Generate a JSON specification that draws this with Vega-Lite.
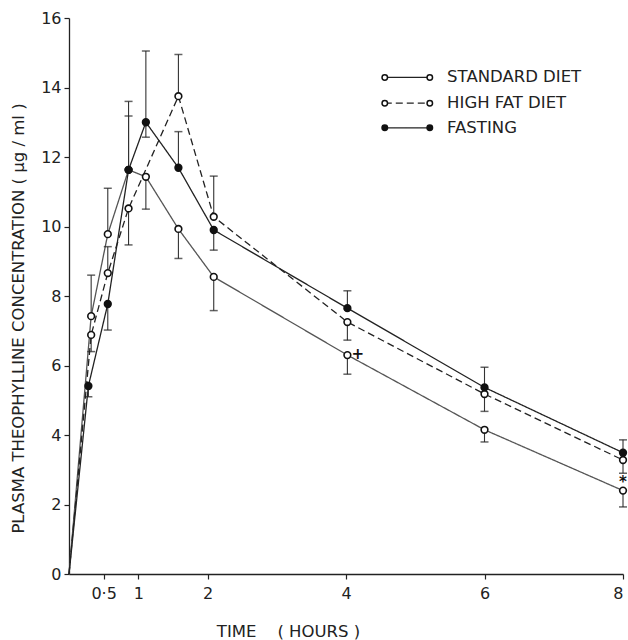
{
  "$schema": "https://vega.github.io/schema/vega-lite/v6.json",
  "width": 554,
  "height": 556,
  "autosize": {"type": "none"},
  "padding": {"left": 69, "top": 18, "right": 5, "bottom": 66},
  "background": "white",
  "config": {
    "view": {"stroke": null},
    "font": "DejaVu Sans",
    "axis": {
      "grid": false,
      "domainColor": "#222",
      "domainWidth": 1.3,
      "tickColor": "#222",
      "tickWidth": 1.2,
      "tickSize": 5,
      "labelColor": "#222",
      "labelFont": "DejaVu Sans",
      "labelFontSize": 16,
      "titleFont": "DejaVu Sans",
      "titleFontSize": 16.5,
      "titleFontWeight": "normal",
      "titleColor": "#222"
    }
  },
  "datasets": {
    "main": [
      {"s": "STANDARD DIET", "t": 0, "c": 0},
      {"s": "STANDARD DIET", "t": 0.32, "c": 7.42},
      {"s": "STANDARD DIET", "t": 0.56, "c": 9.78},
      {"s": "STANDARD DIET", "t": 0.86, "c": 11.63},
      {"s": "STANDARD DIET", "t": 1.11, "c": 11.43},
      {"s": "STANDARD DIET", "t": 1.58, "c": 9.93},
      {"s": "STANDARD DIET", "t": 2.09, "c": 8.55},
      {"s": "STANDARD DIET", "t": 4.02, "c": 6.3},
      {"s": "STANDARD DIET", "t": 6, "c": 4.15},
      {"s": "STANDARD DIET", "t": 8, "c": 2.4},
      {"s": "HIGH FAT DIET", "t": 0, "c": 0},
      {"s": "HIGH FAT DIET", "t": 0.32, "c": 6.88},
      {"s": "HIGH FAT DIET", "t": 0.56, "c": 8.66},
      {"s": "HIGH FAT DIET", "t": 0.86, "c": 10.52},
      {"s": "HIGH FAT DIET", "t": 1.58, "c": 13.75},
      {"s": "HIGH FAT DIET", "t": 2.09, "c": 10.28},
      {"s": "HIGH FAT DIET", "t": 4.02, "c": 7.25},
      {"s": "HIGH FAT DIET", "t": 6, "c": 5.18},
      {"s": "HIGH FAT DIET", "t": 8, "c": 3.28},
      {"s": "FASTING", "t": 0, "c": 0},
      {"s": "FASTING", "t": 0.28, "c": 5.41},
      {"s": "FASTING", "t": 0.56, "c": 7.77},
      {"s": "FASTING", "t": 0.86, "c": 11.63},
      {"s": "FASTING", "t": 1.11, "c": 13.0},
      {"s": "FASTING", "t": 1.58, "c": 11.69},
      {"s": "FASTING", "t": 2.09, "c": 9.9},
      {"s": "FASTING", "t": 4.02, "c": 7.65},
      {"s": "FASTING", "t": 6, "c": 5.37},
      {"s": "FASTING", "t": 8, "c": 3.49}
    ],
    "err": [
      {"s": "STANDARD DIET", "t": 0.32, "c": 7.42, "e": 8.6},
      {"s": "STANDARD DIET", "t": 0.56, "c": 9.78, "e": 11.1},
      {"s": "STANDARD DIET", "t": 0.86, "c": 11.63, "e": 13.6},
      {"s": "STANDARD DIET", "t": 1.11, "c": 11.43, "e": 10.5},
      {"s": "STANDARD DIET", "t": 1.58, "c": 9.93, "e": 9.08},
      {"s": "STANDARD DIET", "t": 2.09, "c": 8.55, "e": 7.58},
      {"s": "STANDARD DIET", "t": 4.02, "c": 6.3, "e": 5.75},
      {"s": "STANDARD DIET", "t": 6, "c": 4.15, "e": 3.8},
      {"s": "STANDARD DIET", "t": 8, "c": 2.4, "e": 1.93},
      {"s": "HIGH FAT DIET", "t": 0.32, "c": 6.88, "e": 6.4},
      {"s": "HIGH FAT DIET", "t": 0.56, "c": 8.66, "e": 9.42},
      {"s": "HIGH FAT DIET", "t": 0.86, "c": 10.52, "e": 9.47},
      {"s": "HIGH FAT DIET", "t": 1.58, "c": 13.75, "e": 14.95},
      {"s": "HIGH FAT DIET", "t": 2.09, "c": 10.28, "e": 11.45},
      {"s": "HIGH FAT DIET", "t": 4.02, "c": 7.25, "e": 6.73},
      {"s": "HIGH FAT DIET", "t": 6, "c": 5.18, "e": 4.68},
      {"s": "HIGH FAT DIET", "t": 8, "c": 3.28, "e": 2.9},
      {"s": "FASTING", "t": 0.28, "c": 5.41, "e": 5.1},
      {"s": "FASTING", "t": 0.56, "c": 7.77, "e": 7.02},
      {"s": "FASTING", "t": 0.86, "c": 11.63, "e": 13.18},
      {"s": "FASTING", "t": 1.11, "c": 13.0, "e": 15.05},
      {"s": "FASTING", "t": 1.11, "c": 13.0, "e": 12.57},
      {"s": "FASTING", "t": 1.58, "c": 11.69, "e": 12.73},
      {"s": "FASTING", "t": 2.09, "c": 9.9, "e": 9.32},
      {"s": "FASTING", "t": 4.02, "c": 7.65, "e": 8.15},
      {"s": "FASTING", "t": 6, "c": 5.37, "e": 5.95},
      {"s": "FASTING", "t": 8, "c": 3.49, "e": 3.86}
    ],
    "notes": [
      {"t": 4.17, "c": 6.33, "txt": "+"},
      {"t": 8.0, "c": 2.66, "txt": "*"}
    ],
    "leg": [
      {"s": "STANDARD DIET", "x": 4.56, "y": 14.29},
      {"s": "STANDARD DIET", "x": 5.21, "y": 14.29},
      {"s": "HIGH FAT DIET", "x": 4.56, "y": 13.55},
      {"s": "HIGH FAT DIET", "x": 5.21, "y": 13.55},
      {"s": "FASTING", "x": 4.56, "y": 12.84},
      {"s": "FASTING", "x": 5.21, "y": 12.84}
    ],
    "legtext": [
      {"s": "STANDARD DIET", "x": 5.46, "y": 14.29},
      {"s": "HIGH FAT DIET", "x": 5.46, "y": 13.55},
      {"s": "FASTING", "x": 5.46, "y": 12.84}
    ]
  },
  "layer": [
    {
      "data": {"name": "main"},
      "mark": {"type": "line", "strokeWidth": 1.3},
      "encoding": {
        "x": {"field": "t", "type": "quantitative",
              "scale": {"domain": [0, 8], "nice": false, "zero": true},
              "axis": {"values": [0.5, 1, 2, 4, 6, 8], "title": "TIME\u00a0\u00a0\u00a0\u00a0( HOURS )",
                       "labelExpr": "datum.value == 0.5 ? '0·5' : format(datum.value, 'd')",
                       "labelPadding": 6, "titlePadding": 22, "titleX": 219}},
        "y": {"field": "c", "type": "quantitative",
              "scale": {"domain": [0, 16], "nice": false},
              "axis": {"values": [0, 2, 4, 6, 8, 10, 12, 14, 16],
                       "title": "PLASMA THEOPHYLLINE CONCENTRATION ( µg / ml )",
                       "labelPadding": 3, "titlePadding": 14, "titleY": 300}},
        "detail": {"field": "s"},
        "color": {"field": "s", "type": "nominal", "legend": null,
                  "scale": {"domain": ["STANDARD DIET", "HIGH FAT DIET", "FASTING"], "range": ["#555", "#222", "#222"]}},
        "strokeDash": {"field": "s", "type": "nominal", "legend": null,
                  "scale": {"domain": ["STANDARD DIET", "HIGH FAT DIET", "FASTING"], "range": [[1, 0], [7, 4], [1, 0]]}}
      }
    },
    {
      "data": {"name": "err"},
      "mark": {"type": "rule", "strokeWidth": 1.1, "color": "#333"},
      "encoding": {
        "x": {"field": "t", "type": "quantitative"},
        "y": {"field": "c", "type": "quantitative"},
        "y2": {"field": "e"}
      }
    },
    {
      "data": {"name": "err"},
      "mark": {"type": "tick", "orient": "horizontal", "size": 8, "thickness": 1.5, "color": "#222"},
      "encoding": {
        "x": {"field": "t", "type": "quantitative"},
        "y": {"field": "e", "type": "quantitative"}
      }
    },
    {
      "data": {"name": "main"},
      "transform": [{"filter": "datum.t > 0"}],
      "mark": {"type": "point", "shape": "circle", "size": 45, "strokeWidth": 1.6, "opacity": 1, "filled": false},
      "encoding": {
        "x": {"field": "t", "type": "quantitative"},
        "y": {"field": "c", "type": "quantitative"},
        "fill": {"field": "s", "type": "nominal", "legend": null,
                 "scale": {"domain": ["STANDARD DIET", "HIGH FAT DIET", "FASTING"], "range": ["white", "white", "#111"]}},
        "stroke": {"value": "#111"}
      }
    },
    {
      "data": {"name": "notes"},
      "mark": {"type": "text", "fontSize": 15, "fontWeight": "bold", "color": "#111", "align": "center", "baseline": "middle"},
      "encoding": {
        "x": {"field": "t", "type": "quantitative"},
        "y": {"field": "c", "type": "quantitative"},
        "text": {"field": "txt"}
      }
    },
    {
      "data": {"name": "leg"},
      "mark": {"type": "line", "strokeWidth": 1.3, "color": "#222"},
      "encoding": {
        "x": {"field": "x", "type": "quantitative"},
        "y": {"field": "y", "type": "quantitative"},
        "detail": {"field": "s"},
        "strokeDash": {"field": "s", "type": "nominal", "legend": null,
                  "scale": {"domain": ["STANDARD DIET", "HIGH FAT DIET", "FASTING"], "range": [[1, 0], [7, 4], [1, 0]]}}
      }
    },
    {
      "data": {"name": "leg"},
      "mark": {"type": "point", "shape": "circle", "size": 30, "strokeWidth": 1.5, "opacity": 1, "filled": false},
      "encoding": {
        "x": {"field": "x", "type": "quantitative"},
        "y": {"field": "y", "type": "quantitative"},
        "fill": {"field": "s", "type": "nominal", "legend": null,
                 "scale": {"domain": ["STANDARD DIET", "HIGH FAT DIET", "FASTING"], "range": ["white", "white", "#111"]}},
        "stroke": {"value": "#111"}
      }
    },
    {
      "data": {"name": "legtext"},
      "mark": {"type": "text", "fontSize": 16.5, "color": "#222", "align": "left", "baseline": "middle"},
      "encoding": {
        "x": {"field": "x", "type": "quantitative"},
        "y": {"field": "y", "type": "quantitative"},
        "text": {"field": "s"}
      }
    }
  ]
}
